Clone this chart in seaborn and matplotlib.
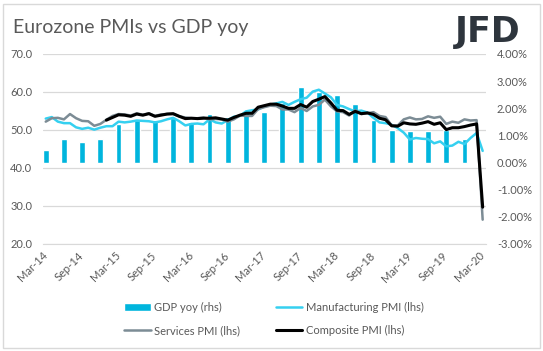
import numpy as np
import pandas as pd
import matplotlib
matplotlib.use("Agg")
import matplotlib.pyplot as plt
from matplotlib.patches import Rectangle
import seaborn as sns

# monthly PMIs Mar-14 .. Mar-20 (lhs), quarterly GDP yoy Mar-14 .. Dec-19 (rhs, %)
months = pd.date_range("2014-03-01", "2020-03-01", freq="MS")

manufacturing = [53.0, 53.4, 52.2, 51.8, 51.8, 50.7, 50.3, 50.6, 50.1, 50.6,
                 51.0, 51.0, 52.2, 52.0, 52.2, 52.5, 52.4, 52.3, 52.0, 52.3, 52.8, 53.2,
                 52.3, 51.2, 51.6, 51.7, 51.5, 52.8, 52.0, 51.7, 52.6, 53.5, 53.7, 54.9,
                 55.2, 55.4, 56.2, 56.7, 57.0, 57.4, 56.6, 57.4, 58.1, 58.5, 60.1, 60.6,
                 59.6, 58.6, 56.6, 56.2, 55.5, 54.9, 55.1, 54.6, 53.2, 52.0, 51.8, 51.4,
                 50.5, 49.3, 47.5, 47.9, 47.7, 47.6, 46.5, 47.0, 45.7, 45.9, 46.9, 46.3,
                 47.9, 49.2, 44.5]

services = [52.2, 53.1, 53.2, 52.8, 54.2, 53.1, 52.4, 52.3, 51.1, 51.6,
            52.7, 53.7, 54.2, 54.1, 53.8, 54.4, 54.0, 54.4, 53.7, 54.1, 54.2, 54.2,
            53.6, 53.3, 53.1, 53.1, 53.3, 52.8, 52.9, 52.8, 52.2, 52.8, 53.8, 53.7,
            53.7, 55.5, 56.0, 56.4, 56.3, 55.4, 55.4, 54.7, 55.8, 55.0, 56.2, 56.6,
            58.0, 56.2, 54.9, 54.7, 53.8, 55.2, 54.2, 54.4, 54.7, 53.7, 53.4, 51.2,
            51.2, 52.8, 53.3, 52.8, 52.9, 53.6, 53.2, 53.5, 51.6, 52.2, 51.9, 52.8,
            52.5, 52.6, 26.4]

# composite series starts Jan-15
composite_start = "2015-01-01"
composite = [52.6, 53.3, 54.0, 53.9, 53.6, 54.2, 53.9, 54.3, 53.6, 53.9, 54.2, 54.3,
             53.6, 53.0, 53.1, 53.0, 53.1, 53.1, 53.2, 52.9, 52.6, 53.3, 53.9, 54.4,
             54.4, 56.0, 56.4, 56.8, 56.8, 56.3, 55.7, 55.7, 56.7, 56.0, 57.5, 58.1,
             58.8, 57.1, 55.2, 55.1, 54.1, 54.9, 54.3, 54.5, 54.1, 53.1, 52.7, 51.1,
             51.0, 51.9, 51.6, 51.5, 51.8, 52.2, 51.5, 51.9, 50.1, 50.6, 50.6, 50.9,
             51.3, 51.6, 29.7]

gdp_yoy = [0.46, 0.87, 0.76, 0.87, 1.42, 1.57, 1.57, 1.63, 1.50, 1.79, 1.67, 1.94,
           1.88, 2.20, 2.80, 2.60, 2.50, 2.17, 1.57, 1.20, 1.16, 1.16, 1.20, 0.86]

left_ticks = [20, 30, 40, 50, 60, 70]
right_ticks = [-3, -2, -1, 0, 1, 2, 3, 4]

# index months on a category-like numeric axis
idx = np.arange(len(months))
pmi = pd.DataFrame({"idx": idx, "manufacturing": manufacturing, "services": services})
comp = pd.DataFrame({"idx": idx[months >= composite_start], "composite": composite})
gdp_idx = idx[::3][:len(gdp_yoy)]
tick_idx = idx[::6]
tick_lab = [m.strftime("%b-%y") for m in months[::6]]

sns.set_style("white")
plt.rcParams["font.family"] = ["Lato", "DejaVu Sans"]
txt = "#595959"
grid_c = "#D9D9D9"

fig = plt.figure(figsize=(5.43, 3.51), dpi=100)
pos = [42.7 / 543, 107 / 351, 443 / 543, 190 / 351]

# base axes: grid + left labels
ax = fig.add_axes(pos)
ax.set_ylim(20, 70)
ax.set_yticks(left_ticks)
ax.set_yticklabels([f"{v:.1f}" for v in left_ticks], color=txt, fontsize=8)
ax.tick_params(axis="y", length=0, pad=7.5)
ax.grid(True, axis="y", color=grid_c, linewidth=0.9)
for s in ["top", "right", "left"]:
    ax.spines[s].set_visible(False)
ax.spines["bottom"].set_color(grid_c)
ax.set_xlim(-0.5, 72.5)
ax.set_xticks(tick_idx)
ax.set_xticklabels(tick_lab, rotation=45, ha="right", va="center",
                   rotation_mode="anchor", color=txt, fontsize=8)
ax.tick_params(axis="x", length=4, color=grid_c, pad=3)

# GDP bars on the right scale
ax_b = ax.twinx()
sns.barplot(x=gdp_idx, y=gdp_yoy, native_scale=True, width=0.32, saturation=1,
            color="#00B5DD", errorbar=None, ax=ax_b, label="GDP yoy (rhs)")
ax_b.set_ylim(-3, 4)
ax_b.set_yticks(right_ticks)
ax_b.set_yticklabels([f"{v:.2f}%" for v in right_ticks], color=txt, fontsize=8)
ax_b.tick_params(axis="y", length=0, pad=8)
ax_b.set_ylabel("")
ax_b.set_xlim(-0.5, 72.5)
if ax_b.get_legend() is not None:
    ax_b.get_legend().remove()
for s in ax_b.spines.values():
    s.set_visible(False)

# PMI lines on top, left scale
ax_l = ax.twinx()
sns.lineplot(data=pmi, x="idx", y="manufacturing", color="#35D0F0", linewidth=1.8,
             ax=ax_l, label="Manufacturing PMI (lhs)")
sns.lineplot(data=pmi, x="idx", y="services", color="#7C8C95", linewidth=1.8,
             ax=ax_l, label="Services PMI (lhs)")
sns.lineplot(data=comp, x="idx", y="composite", color="black", linewidth=2.2,
             ax=ax_l, label="Composite PMI (lhs)")
ax_l.set_ylim(20, 70)
ax_l.set_xlim(-0.5, 72.5)
ax_l.set_yticks([])
ax_l.set_ylabel("")
ax_l.set_xlabel("")
ax.set_xlabel("")
ax_l.legend_.remove()
for s in ax_l.spines.values():
    s.set_visible(False)

h_b, l_b = ax_b.get_legend_handles_labels()
h_l, l_l = ax_l.get_legend_handles_labels()
handles = [h_b[0], h_l[1], h_l[0], h_l[2]]
labels = [l_b[0], l_l[1], l_l[0], l_l[2]]
fig.legend(handles, labels, ncol=2, loc="upper left",
           bbox_to_anchor=(124 / 543, 1 - 302 / 351), frameon=False,
           fontsize=8, labelcolor=txt, handlelength=2.4, handletextpad=0.3,
           columnspacing=3.2, labelspacing=1.1, borderpad=0, borderaxespad=0)

fig.text(13 / 543, 1 - 27 / 351, "Eurozone PMIs vs GDP yoy", fontsize=14,
         color=txt, va="center", ha="left")
fig.text(455 / 543, 1 - 42 / 351, "JFD", fontsize=25, fontweight="bold",
         color="#2E353D", family="DejaVu Sans", ha="left", va="baseline")

fig.add_artist(Rectangle((3 / 543, 3 / 351), 537 / 543, 344 / 351,
                         transform=fig.transFigure, fill=False,
                         edgecolor=grid_c, linewidth=1))

fig.savefig("out.png", dpi=100)
